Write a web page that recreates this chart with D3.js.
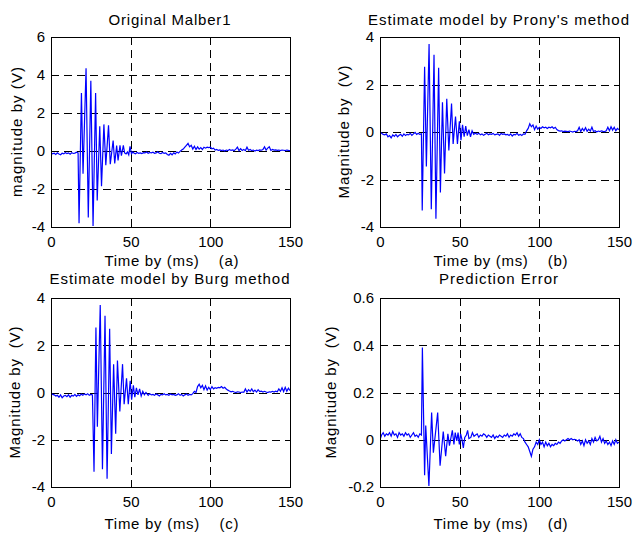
<!DOCTYPE html>
<html>
<head>
<meta charset="utf-8">
<script src="https://cdn.jsdelivr.net/npm/d3@7"></script>
<style>
  body { margin: 0; background: #fff; }
  text { font-family: "Liberation Sans", Arial, sans-serif; fill: #000; }
</style>
</head>
<body>
<div id="chart"></div>
<script>
var WIDTH = 636;
var HEIGHT = 536;

var xTicks = [0, 50, 100, 150];
var yTicksA = [-4, -2, 0, 2, 4, 6];
var yTicksB = [-4, -2, 0, 2, 4];
var yTicksC = [-4, -2, 0, 2, 4];
var yTicksD = [-0.2, 0, 0.2, 0.4, 0.6];

var titles = ["Original Malber1", "Estimate model by Prony's method",
              "Estimate model by Burg method", "Prediction Error"];
var yLabels = ["magnitude by (V)", "Magnitude by  (V)", "Magnitude by  (V)", "Magnitude by  (V)"];
var xLabels = ["Time by (ms)    (a)", "Time by (ms)    (b)", "Time by (ms)    (c)", "Time by (ms)    (d)"];

// [time (ms), magnitude (V)]
var seriesA = [
  [0,-0.08],[1,-0.15],[2,-0.12],[3,-0.18],[4,-0.1],[5,-0.16],[6,-0.2],[7,-0.12],[8,-0.15],[9,-0.08],
  [10,-0.14],[11,-0.1],[12,-0.17],[13,-0.09],[14,-0.13],[15,-0.11],[16,-0.06],[17,-0.1],
  [17.6,-3.8],[19.1,3.05],[20.1,-1.2],[22.0,4.35],[23.4,-3.5],[25.0,3.7],[26.4,-3.95],[28.0,3.05],
  [29.0,-2.6],[30.6,1.3],[31.7,-1.85],[33.2,1.4],[34.4,-0.75],[36.1,1.35],[37.2,-0.7],[39.0,0.55],
  [40.0,-0.65],[41.2,0.28],[42.1,-0.5],[43.3,0.3],[44.2,-0.25],[45.4,0.3],[46.2,-0.1],[47.1,-0.15],
  [48.0,-0.05],[48.8,-0.2],[49.6,0.25],[50.5,-0.15],[51.4,-0.05],
  [52,-0.1],[53,-0.15],[54,-0.08],[55,-0.12],[56,-0.1],[57,-0.14],[58,-0.09],[59,-0.1],[60,-0.05],
  [61,-0.12],[62,-0.08],[63,-0.1],[64,-0.06],[65,-0.12],[66,-0.1],[67,-0.04],[68,-0.12],[69,-0.14],
  [70,-0.08],[71,-0.12],[72,-0.1],[73,-0.18],[74,-0.22],[75,-0.12],[76,-0.2],[77,-0.1],[78,-0.15],
  [79,-0.05],[80,-0.1],[81,-0.02],[82,0.05],[83,0.1],[84,0.2],[85,0.3],[86,0.4],[87,0.22],[88,0.3],
  [89,0.1],[90,0.25],[91,0.08],[92,0.22],[93,0.1],[94,0.18],[95,0.08],[96,0.2],[97,0.15],[98,0.2],
  [99,0.18],[100,0.2],[101,0.12],[102,0.15],[103,0.05],[104,0.08],[105,0.03],[106,0.06],[107,0.02],
  [108,0.05],[109,0.0],[110,0.05],[111,0.02],[112,0.08],[113,0.03],[114,0.06],[115,0.02],[116,0.1],
  [117,0.2],[118,0.02],[119,0.12],[120,0.03],[121,0.08],[122,0.02],[123,0.2],[124,0.04],[125,0.08],
  [126,0.02],[127,0.05],[128,0.0],[129,0.04],[130,0.02],[131,0.06],[132,0.04],[133,0.08],[134,0.22],
  [135,0.05],[136,0.15],[137,0.22],[138,0.03],[139,0.08],[140,0.05],[141,0.06],[142,0.03],[143,0.05],
  [144,0.02],[145,0.05],[146,0.04],[147,0.02],[148,0.05],[149,0.03],[150,0.02]
];

var seriesB = [
  [0,0.0],[1,-0.05],[2,-0.1],[3,-0.12],[4,-0.08],[5,-0.2],[6,-0.15],[7,-0.25],[8,-0.12],[9,-0.18],
  [10,-0.1],[11,-0.2],[12,-0.14],[13,-0.1],[14,-0.18],[15,-0.08],[16,-0.15],[17,-0.1],[18,-0.12],
  [19,-0.06],[20,-0.14],[21,-0.08],[22,-0.02],[23,-0.1],[24,-0.05],[25,-0.1],[26,-0.08],
  [26.5,-3.3],[28.0,2.75],[29.1,-1.45],[30.8,3.7],[32.2,-3.25],[33.9,3.25],[35.1,-3.65],[36.8,2.7],
  [37.9,-2.55],[39.2,1.25],[40.5,-1.75],[41.9,1.4],[43.2,-0.78],[44.9,1.2],[45.9,-0.5],[47.4,0.65],
  [48.6,-0.5],[49.8,0.45],[50.8,-0.35],[51.8,0.3],[52.8,-0.2],[53.8,0.25],[54.8,-0.15],[55.8,0.1],
  [56.8,-0.2],[57.8,0.05],[58.8,-0.1],[59.8,-0.05],
  [61,-0.1],[62,-0.05],[63,-0.12],[64,-0.08],[65,-0.14],[66,-0.1],[67,-0.05],[68,-0.12],[69,-0.08],
  [70,-0.1],[71,-0.06],[72,-0.12],[73,-0.1],[74,-0.08],[75,-0.14],[76,-0.06],[77,-0.1],[78,-0.08],
  [79,-0.12],[80,-0.1],[81,-0.15],[82,-0.08],[83,-0.17],[84,-0.1],[85,-0.12],[86,-0.06],[87,-0.14],
  [88,-0.1],[89,-0.15],[90,-0.08],[91,-0.1],[92,0.05],[93,0.15],[94,0.35],[95,0.22],[96,0.3],[97,0.1],
  [98,0.25],[99,0.12],[100,0.2],[101,0.15],[102,0.22],[103,0.18],[104,0.2],[105,0.15],[106,0.2],
  [107,0.18],[108,0.22],[109,0.15],[110,0.2],[111,0.1],[112,0.06],[113,0.04],[114,0.05],[115,0.02],
  [116,0.04],[117,0.03],[118,0.02],[119,0.04],[120,0.02],[121,0.0],[122,0.03],[123,0.02],[124,0.05],
  [125,0.2],[126,0.02],[127,0.15],[128,0.05],[129,0.18],[130,0.03],[131,0.12],[132,0.04],[133,0.2],
  [134,0.02],[135,0.05],[136,0.0],[137,0.04],[138,0.02],[139,0.05],[140,0.03],[141,0.02],[142,0.05],
  [143,0.2],[144,0.05],[145,0.22],[146,0.08],[147,0.2],[148,0.05],[149,0.15],[150,0.1]
];

var seriesC = [
  [0,-0.02],[1,-0.08],[2,-0.1],[3,-0.15],[4,-0.12],[5,-0.2],[6,-0.1],[7,-0.22],[8,-0.15],[9,-0.12],
  [10,-0.18],[11,-0.1],[12,-0.2],[13,-0.12],[14,-0.15],[15,-0.08],[16,-0.16],[17,-0.1],[18,-0.14],
  [19,-0.07],[20,-0.12],[21,-0.06],[22,-0.1],[23,-0.05],[24,-0.12],[25,-0.08],[26,-0.1],
  [27.0,-3.35],[28.2,2.75],[29.1,-1.45],[30.9,3.7],[32.3,-3.25],[33.9,3.25],[35.2,-3.65],[36.8,2.7],
  [37.9,-2.6],[39.3,1.2],[40.6,-1.75],[41.7,1.35],[43.2,-0.8],[44.9,1.2],[45.9,-0.5],[47.4,0.6],
  [48.5,-0.5],[49.7,0.5],[50.6,-0.3],[51.7,0.3],[52.6,-0.2],[53.6,0.2],[54.6,-0.1],[55.6,0.15],
  [56.6,-0.15],[57.6,0.05],[58.6,-0.1],[59.6,0.0],
  [61,-0.12],[62,-0.05],[63,-0.1],[64,-0.08],[65,-0.12],[66,-0.06],[67,-0.1],[68,-0.15],[69,-0.08],
  [70,-0.1],[71,-0.05],[72,-0.1],[73,-0.08],[74,-0.12],[75,-0.06],[76,-0.1],[77,-0.08],[78,-0.12],
  [79,-0.1],[80,-0.05],[81,-0.12],[82,-0.08],[83,-0.15],[84,-0.1],[85,-0.06],[86,-0.12],[87,-0.08],
  [88,-0.1],[89,-0.05],[90,0.05],[91,0.0],[92,0.25],[93,0.35],[94,0.2],[95,0.3],[96,0.12],[97,0.28],
  [98,0.1],[99,0.22],[100,0.12],[101,0.25],[102,0.15],[103,0.2],[104,0.18],[105,0.22],[106,0.2],
  [107,0.25],[108,0.18],[109,0.22],[110,0.15],[111,0.1],[112,0.06],[113,0.03],[114,0.05],[115,0.02],
  [116,0.0],[117,0.03],[118,0.02],[119,0.0],[120,0.02],[121,0.01],[122,0.15],[123,0.02],[124,0.12],
  [125,0.05],[126,0.15],[127,0.03],[128,0.1],[129,0.02],[130,0.12],[131,0.04],[132,0.06],[133,0.02],
  [134,0.05],[135,0.02],[136,0.0],[137,0.03],[138,0.02],[139,0.05],[140,0.02],[141,0.06],[142,0.03],
  [143,0.15],[144,0.05],[145,0.2],[146,0.04],[147,0.22],[148,0.05],[149,0.18],[150,0.08]
];

var seriesD = [
  [0,0.0],[1,0.02],[2,0.03],[3,0.015],[4,0.025],[5,0.02],[6,0.03],[7,0.015],[8,0.035],[9,0.02],
  [10,0.025],[11,0.01],[12,0.03],[13,0.02],[14,0.025],[15,0.015],[16,0.03],[17,0.02],[18,0.025],
  [19,0.01],[20,0.02],[21,0.03],[22,0.015],[23,0.02],[24,0.01],[25,0.025],[26,0.02],
  [26.6,0.39],[28.0,-0.15],[28.7,0.06],[30.7,-0.196],[32.4,0.115],[33.5,-0.055],[36.2,0.115],
  [37.7,-0.11],[39.7,0.035],[41.2,-0.07],[42.6,0.025],[43.6,-0.025],[45.4,0.04],[46.4,-0.02],
  [47.2,0.03],[48.2,-0.005],[49.0,0.03],[49.8,-0.02],[50.6,0.025],[51.5,0.0],[52.3,-0.035],
  [53.2,0.01],[54.2,0.02],[55.0,0.04],[55.8,0.005],
  [57,0.01],[58,0.03],[59,0.015],[60,0.02],[61,0.025],[62,0.01],[63,0.02],[64,0.015],[65,0.025],
  [66,0.02],[67,0.01],[68,0.02],[69,0.015],[70,0.01],[71,0.02],[72,0.005],[73,0.015],[74,0.01],
  [75,0.02],[76,0.015],[77,0.01],[78,0.02],[79,0.015],[80,0.025],[81,0.01],[82,0.02],[83,0.015],
  [84,0.025],[85,0.02],[86,0.03],[87,0.015],[88,0.025],[89,0.01],[90,0.005],[91,-0.01],[92,-0.02],
  [93,-0.03],[94,-0.05],[95,-0.07],[96,-0.04],[97,-0.03],[98,-0.01],[99,-0.02],[100,0.0],[101,-0.02],
  [102,-0.01],[103,-0.03],[104,-0.01],[105,-0.025],[106,-0.015],[107,-0.03],[108,-0.02],[109,-0.025],
  [110,-0.015],[111,-0.02],[112,-0.01],[113,-0.015],[114,-0.005],[115,0.0],[116,-0.005],[117,0.0],
  [118,0.005],[119,0.0],[120,0.005],[121,0.0],[122,0.002],[123,0.0],[124,-0.005],[125,0.0],
  [126,-0.02],[127,-0.005],[128,-0.025],[129,0.0],[130,-0.015],[131,-0.005],[132,-0.02],[133,0.005],
  [134,-0.01],[135,0.01],[136,-0.005],[137,0.0],[138,0.015],[139,-0.01],[140,0.005],[141,-0.015],
  [142,-0.005],[143,-0.02],[144,-0.01],[145,-0.025],[146,-0.005],[147,-0.02],[148,0.0],[149,-0.015],
  [150,-0.01]
];

var svg = d3.select("#chart").append("svg")
    .attr("width", WIDTH)
    .attr("height", HEIGHT);

var panels = [
  { left: 51,  right: 290, top: 37,  bottom: 227, yTicks: yTicksA, data: seriesA,
    title: titles[0], titleW: 122, titleY: 25, yLabel: yLabels[0], yLabelX: 17, yLabelW: 130,
    xLabel: xLabels[0], xLabelW: 134, xLabelDy: 39 },
  { left: 380, right: 619, top: 37,  bottom: 227, yTicks: yTicksB, data: seriesB,
    title: titles[1], titleW: 261, titleY: 25, yLabel: yLabels[1], yLabelX: 344, yLabelW: 133,
    xLabel: xLabels[1], xLabelW: 134, xLabelDy: 39 },
  { left: 51,  right: 290, top: 298, bottom: 487, yTicks: yTicksC, data: seriesC,
    title: titles[2], titleW: 240, titleY: 284, yLabel: yLabels[2], yLabelX: 15, yLabelW: 132,
    xLabel: xLabels[2], xLabelW: 134, xLabelDy: 42 },
  { left: 380, right: 619, top: 298, bottom: 487, yTicks: yTicksD, data: seriesD,
    title: titles[3], titleW: 119, titleY: 284, yLabel: yLabels[3], yLabelX: 331, yLabelW: 132,
    xLabel: xLabels[3], xLabelW: 134, xLabelDy: 42 }
];

panels.forEach(function(p, i) { drawPanel(p, i); });

function drawPanel(p, i)
{
    var yTicks = p.yTicks;
    var x = d3.scaleLinear().domain([0, 150]).range([p.left, p.right]);
    var y = d3.scaleLinear().domain([yTicks[0], yTicks[yTicks.length - 1]]).range([p.bottom, p.top]);
    var g = svg.append("g");
    var snap = function(v) { return Math.round(v) + 0.5; };

    g.append("clipPath").attr("id", "clip" + i)
      .append("rect")
        .attr("x", p.left).attr("y", p.top)
        .attr("width", p.right - p.left).attr("height", p.bottom - p.top);

    // dashed grid
    g.selectAll(".vgrid")
        .data(xTicks.slice(1, -1))
        .enter().append("line")
        .attr("x1", function(d) { return snap(x(d)); })
        .attr("x2", function(d) { return snap(x(d)); })
        .attr("y1", p.top).attr("y2", p.bottom)
        .style("stroke", "#000").style("stroke-dasharray", "8,5");
    g.selectAll(".hgrid")
        .data(yTicks.slice(1, -1))
        .enter().append("line")
        .attr("y1", function(d) { return snap(y(d)); })
        .attr("y2", function(d) { return snap(y(d)); })
        .attr("x1", p.left).attr("x2", p.right)
        .style("stroke", "#000").style("stroke-dasharray", "8,5");

    var line = d3.line()
        .x(function(d) { return x(d[0]); })
        .y(function(d) { return y(d[1]); });

    g.append("path")
        .datum(p.data)
        .attr("clip-path", "url(#clip" + i + ")")
        .attr("d", line)
        .style("fill", "none")
        .style("stroke", "#0000ff")
        .style("stroke-width", 1.2)
        .style("stroke-linejoin", "miter");

    g.append("rect")
        .attr("x", p.left + 0.5).attr("y", p.top + 0.5)
        .attr("width", p.right - p.left).attr("height", p.bottom - p.top)
        .style("fill", "none").style("stroke", "#000");

    var xAxis = g.append("g")
        .attr("transform", "translate(0," + p.bottom + ")")
        .call(d3.axisBottom(x).tickValues(xTicks).tickSize(0).tickPadding(9)
              .tickFormat(function(d) { return String(d); }));
    var yAxis = g.append("g")
        .attr("transform", "translate(" + p.left + ",0)")
        .call(d3.axisLeft(y).tickValues(yTicks).tickSize(0).tickPadding(6)
              .tickFormat(function(d) { return String(d); }));
    [xAxis, yAxis].forEach(function(a) {
        a.select(".domain").remove();
        a.attr("font-size", 15);
    });

    g.append("text")
        .attr("x", (p.left + p.right) / 2 - 1)
        .attr("y", p.titleY)
        .attr("text-anchor", "middle")
        .attr("font-size", 15)
        .attr("textLength", p.titleW)
        .attr("lengthAdjust", "spacing")
        .text(p.title);

    g.append("text")
        .attr("x", (p.left + p.right) / 2 + 1)
        .attr("y", p.bottom + p.xLabelDy)
        .attr("text-anchor", "middle")
        .attr("font-size", 15)
        .style("white-space", "pre")
        .attr("textLength", p.xLabelW)
        .attr("lengthAdjust", "spacing")
        .text(p.xLabel);

    g.append("text")
        .attr("transform", "translate(" + p.yLabelX + "," + ((p.top + p.bottom) / 2) + ") rotate(-90)")
        .attr("text-anchor", "middle")
        .attr("dy", "0.35em")
        .attr("font-size", 15)
        .style("white-space", "pre")
        .attr("textLength", p.yLabelW)
        .attr("lengthAdjust", "spacing")
        .text(p.yLabel);
}
</script>
</body>
</html>
